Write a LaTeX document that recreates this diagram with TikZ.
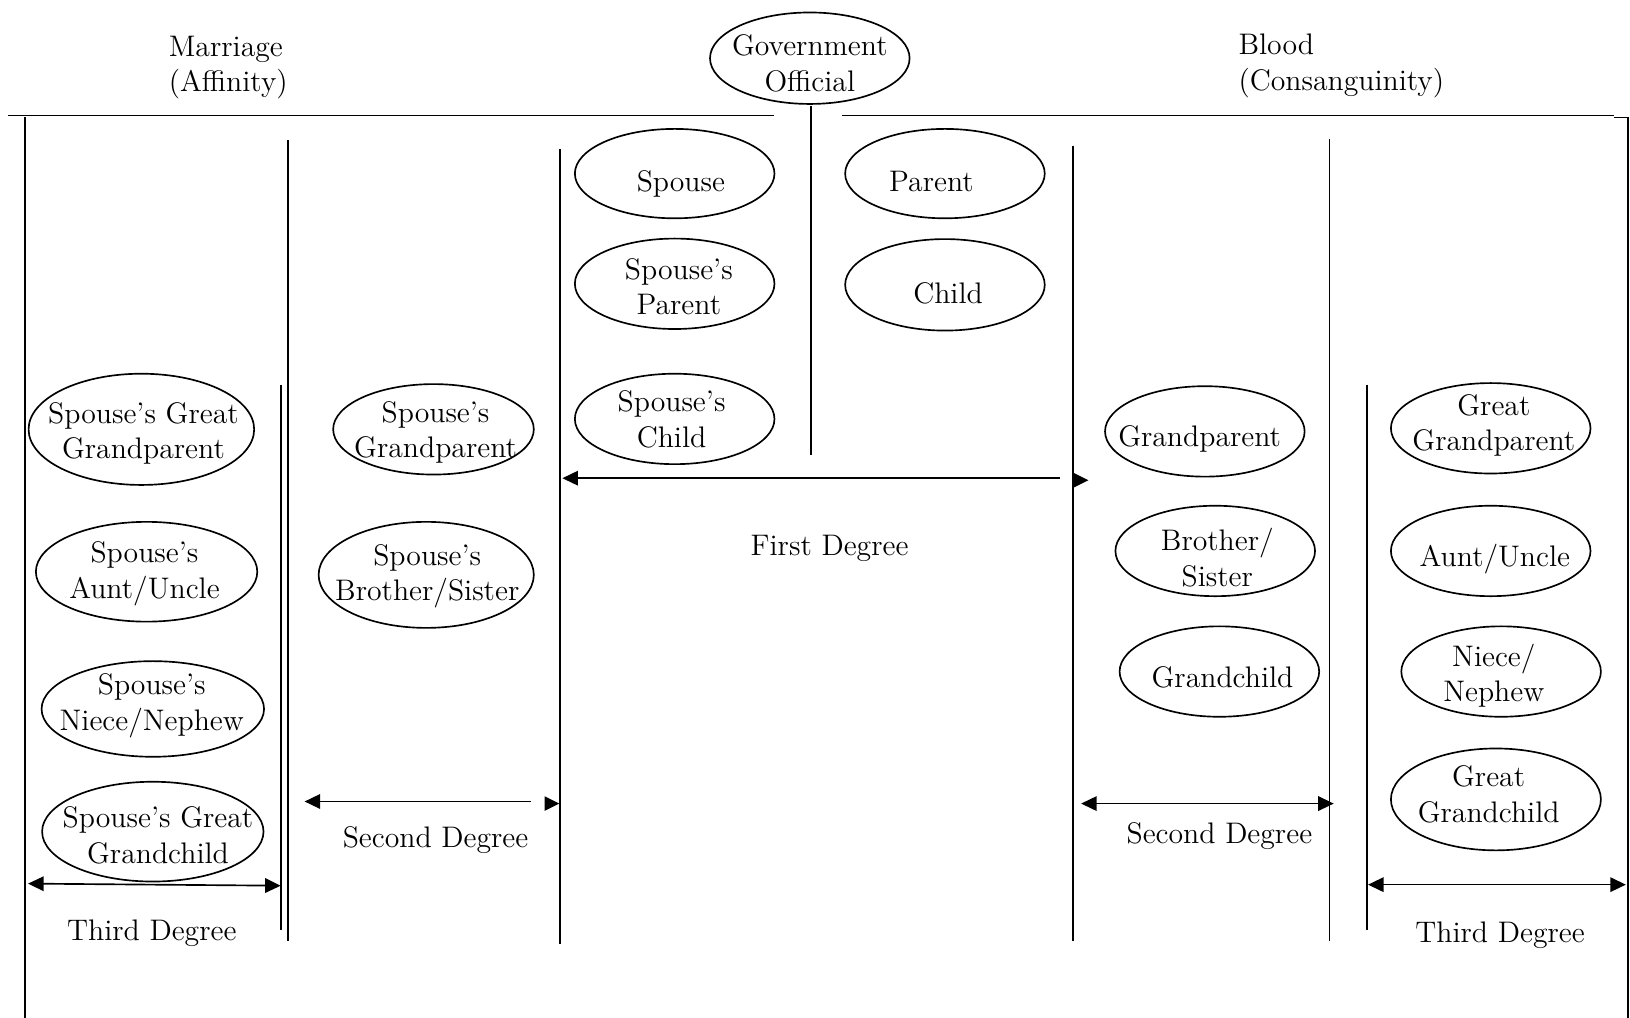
\documentclass[tikz,border=0pt]{standalone}
\usetikzlibrary{shapes.geometric,arrows.meta}
\newcommand\dfont{\fontsize{14.3}{17}\selectfont}
\tikzset{
  oval/.style={ellipse, draw, line width=0.8pt, inner sep=0pt, minimum width=96pt, minimum height=43.5pt},
  rulex/.style={line width=0.8pt},
  dimarrow/.style={line width=0.8pt, {Triangle[length=7.5pt,width=7pt]}-{Triangle[length=7.5pt,width=7pt]}},
  leftarrow/.style={line width=0.8pt, {Triangle[length=7.5pt,width=7pt]}-},
  txt/.style={font=\dfont, align=center, inner sep=0pt},
}
\begin{document}
\begin{tikzpicture}[x=0.5pt,y=-0.5pt]
\useasboundingbox (0,0) rectangle (1568,979);
% headers
\node[txt, align=left, anchor=west] (marr) at (162,65) {Marriage\\(Affinity)};
\node[txt, align=left, anchor=west] (blood) at (1191,63.5) {Blood\\(Consanguinity)};
\node[oval, minimum width=96pt, minimum height=44pt] (gov) at (779,56) {};
\node[txt] (govt) at (779,61) {Government\\Official};
% top rules
\coordinate (tl1) at (8,111); \coordinate (tl2) at (745,111);
\coordinate (tr1) at (810,111); \coordinate (tr2) at (1553,111);
\coordinate (tr3) at (1553,113); \coordinate (tr4) at (1566,113);
\coordinate (br) at (1566,979);
\draw[rulex] (tl1) -- (tl2);
\draw[rulex] (tr1) -- (tr2);
\draw[rulex] (tr3) -- (tr4) -- (br);
% vertical rules
\coordinate (v0a) at (24,113); \coordinate (v0b) at (24,979);
\draw[rulex] (v0a) -- (v0b);
\coordinate (v1a) at (277,135); \coordinate (v1b) at (277,905);
\draw[rulex] (v1a) -- (v1b);
\coordinate (v1ca) at (270,370); \coordinate (v1cb) at (270,895);
\draw[rulex] (v1ca) -- (v1cb);
\coordinate (v2a) at (539,143); \coordinate (v2b) at (539,908);
\draw[rulex] (v2a) -- (v2b);
\coordinate (vga) at (780,102); \coordinate (vgb) at (780,438);
\draw[rulex] (vga) -- (vgb);
\coordinate (v3a) at (1032,140); \coordinate (v3b) at (1032,905);
\draw[rulex] (v3a) -- (v3b);
\coordinate (v4a) at (1279,134); \coordinate (v4b) at (1279,905);
\draw[rulex] (v4a) -- (v4b);
\coordinate (v5a) at (1315,370); \coordinate (v5b) at (1315,895);
\draw[rulex] (v5a) -- (v5b);
% ellipses: marriage side
\node[oval, minimum width=108.5pt, minimum height=53.5pt] (e1) at (136,413) {};
\node[txt] (t1) at (138,417) {Spouse’s Great\\Grandparent};
\node[oval, minimum width=106.5pt, minimum height=48pt] (e2) at (141,550) {};
\node[txt] (t2) at (139,552) {Spouse’s\\Aunt/Uncle};
\node[oval, minimum width=107pt, minimum height=46pt] (e3) at (147,682) {};
\node[txt] (t3) at (146,679) {Spouse’s\\Niece/Nephew};
\node[oval, minimum width=106.5pt, minimum height=48pt] (e4) at (147,800) {};
\node[txt] (t4) at (152,803.5) {Spouse’s Great\\Grandchild};
\node[oval, minimum width=96.5pt, minimum height=43.5pt] (e5) at (417,413) {};
\node[txt] (t5) at (419,416) {Spouse’s\\Grandparent};
\node[oval, minimum width=103.5pt, minimum height=51pt] (e6) at (410,553) {};
\node[txt] (t6) at (411,554.5) {Spouse’s\\Brother/Sister};
\node[oval, minimum height=43pt] (e7) at (649,167) {};
\node[txt] (t7) at (655,177) {Spouse};
\node[oval] (e8) at (649,273) {};
\node[txt] (t8) at (653,276) {Spouse’s\\Parent};
\node[oval] (e9) at (649,403) {};
\node[txt] (t9) at (646,403.5) {Spouse’s\\Child};
% blood side
\node[oval, minimum height=43pt] (e10) at (909,167) {};
\node[txt] (t10) at (896,175) {Parent};
\node[oval, minimum height=44pt] (e11) at (909,274) {};
\node[txt] (t11) at (912,282) {Child};
\node[oval] (e12) at (1159,415) {};
\node[txt] (t12) at (1154,422) {Grandparent};
\node[oval] (e13) at (1169,530) {};
\node[txt] (t13) at (1171,536.5) {Brother/\\Sister};
\node[oval] (e14) at (1173,646) {};
\node[txt] (t14) at (1176,652) {Grandchild};
\node[oval] (e15) at (1434,412) {};
\node[txt] (t15) at (1437,409.5) {Great\\Grandparent};
\node[oval] (e16) at (1434,530) {};
\node[txt] (t16) at (1438,538) {Aunt/Uncle};
\node[oval] (e17) at (1444,646) {};
\node[txt] (t17) at (1437,650) {Niece/\\Nephew};
\node[oval, minimum width=101pt, minimum height=49pt] (e18) at (1439,769) {};
\node[txt] (t18) at (1432,764) {Great\\Grandchild};
% first degree
\coordinate (fdL) at (541,460); \coordinate (fdM) at (1020,460); \coordinate (fdR) at (1047,462);
\draw[leftarrow] (fdL) -- (fdM);
\fill (fdR) -- ++(-14,-7) -- ++(0,14) -- cycle;
\node[txt] (fdt) at (798,528) {First Degree};
% second degree (marriage)
\coordinate (sdL) at (293,771); \coordinate (sdM) at (511,771); \coordinate (sdR) at (538,773);
\draw[leftarrow] (sdL) -- (sdM);
\fill (sdR) -- ++(-14,-7) -- ++(0,14) -- cycle;
\node[txt] (sdt) at (419,808) {Second Degree};
% third degree (marriage)
\coordinate (tdL) at (27,850); \coordinate (tdR) at (270,852);
\draw[dimarrow] (tdL) -- (tdR);
\node[txt] (tdt) at (146,898) {Third Degree};
% second degree (blood)
\coordinate (sbL) at (1040,773); \coordinate (sbR) at (1283,773);
\draw[dimarrow] (sbL) -- (sbR);
\node[txt] (sbt) at (1173,804) {Second Degree};
% third degree (blood)
\coordinate (tbL) at (1316,851); \coordinate (tbR) at (1564,851);
\draw[dimarrow] (tbL) -- (tbR);
\node[txt] (tbt) at (1443,900) {Third Degree};
\end{tikzpicture}
\end{document}
